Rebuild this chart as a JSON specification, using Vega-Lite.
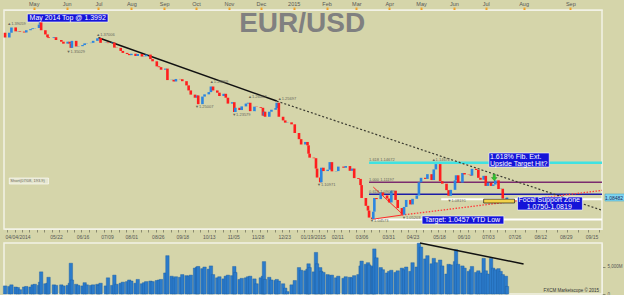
{
  "$schema": "https://vega.github.io/schema/vega-lite/v6.json",
  "background": "#D5D5AA",
  "padding": {"left": 2, "top": 0, "right": 0, "bottom": 0},
  "bounds": "flush",
  "spacing": 14,
  "config": {
    "font": "Liberation Sans",
    "view": {"stroke": "#F2F2E6", "strokeWidth": 1.5},
    "axis": {"grid": false, "labelFont": "Liberation Sans", "labelColor": "#555555", "domainColor": "#F2F2E6", "tickColor": "#8A8A70"},
    "scale": {"continuousPadding": 0}
  },
  "datasets": {
    "candles": [
      {"d":"2014-04-04","o":1.3790,"c":1.3705,"v":1500},
      {"d":"2014-04-08","o":1.3705,"c":1.3790,"v":1400},
      {"d":"2014-04-10","o":1.3790,"c":1.3885,"v":1700},
      {"d":"2014-04-14","o":1.3885,"c":1.3815,"v":1300},
      {"d":"2014-04-16","o":1.3815,"c":1.3820,"v":1200},
      {"d":"2014-04-18","o":1.3820,"c":1.3810,"v":800},
      {"d":"2014-04-22","o":1.3810,"c":1.3795,"v":1300},
      {"d":"2014-04-24","o":1.3795,"c":1.3835,"v":1400},
      {"d":"2014-04-28","o":1.3835,"c":1.3855,"v":1300},
      {"d":"2014-04-30","o":1.3855,"c":1.3870,"v":1700},
      {"d":"2014-05-02","o":1.3870,"c":1.3875,"v":1800},
      {"d":"2014-05-06","o":1.3875,"c":1.3935,"v":1600},
      {"d":"2014-05-07","o":1.3935,"c":1.3985,"v":2200},
      {"d":"2014-05-08","o":1.3985,"c":1.3835,"v":4100},
      {"d":"2014-05-12","o":1.3835,"c":1.3760,"v":1900},
      {"d":"2014-05-14","o":1.3760,"c":1.3710,"v":2000},
      {"d":"2014-05-15","o":1.3710,"c":1.3695,"v":3100},
      {"d":"2014-05-20","o":1.3695,"c":1.3710,"v":1700},
      {"d":"2014-05-22","o":1.3710,"c":1.3660,"v":1600},
      {"d":"2014-05-27","o":1.3660,"c":1.3630,"v":1700},
      {"d":"2014-05-29","o":1.3630,"c":1.3595,"v":1500},
      {"d":"2014-06-02","o":1.3595,"c":1.3630,"v":1600},
      {"d":"2014-06-04","o":1.3630,"c":1.3595,"v":2000},
      {"d":"2014-06-05","o":1.3595,"c":1.3520,"v":5700},
      {"d":"2014-06-06","o":1.3520,"c":1.3645,"v":2600},
      {"d":"2014-06-10","o":1.3645,"c":1.3545,"v":1800},
      {"d":"2014-06-12","o":1.3545,"c":1.3550,"v":1600},
      {"d":"2014-06-16","o":1.3550,"c":1.3570,"v":1500},
      {"d":"2014-06-18","o":1.3570,"c":1.3600,"v":2100},
      {"d":"2014-06-20","o":1.3600,"c":1.3605,"v":1700},
      {"d":"2014-06-24","o":1.3605,"c":1.3610,"v":1600},
      {"d":"2014-06-26","o":1.3610,"c":1.3645,"v":1700},
      {"d":"2014-06-30","o":1.3645,"c":1.3690,"v":1800},
      {"d":"2014-07-01","o":1.3690,"c":1.3695,"v":1600},
      {"d":"2014-07-03","o":1.3695,"c":1.3610,"v":2000},
      {"d":"2014-07-08","o":1.3610,"c":1.3615,"v":1500},
      {"d":"2014-07-10","o":1.3615,"c":1.3605,"v":3000},
      {"d":"2014-07-14","o":1.3605,"c":1.3615,"v":1600},
      {"d":"2014-07-16","o":1.3615,"c":1.3525,"v":3500},
      {"d":"2014-07-18","o":1.3525,"c":1.3520,"v":1800},
      {"d":"2014-07-22","o":1.3520,"c":1.3465,"v":2000},
      {"d":"2014-07-24","o":1.3465,"c":1.3430,"v":2200},
      {"d":"2014-07-28","o":1.3430,"c":1.3410,"v":2300},
      {"d":"2014-07-30","o":1.3410,"c":1.3390,"v":2600},
      {"d":"2014-08-01","o":1.3390,"c":1.3415,"v":2400},
      {"d":"2014-08-05","o":1.3415,"c":1.3375,"v":2000},
      {"d":"2014-08-07","o":1.3375,"c":1.3410,"v":2700},
      {"d":"2014-08-11","o":1.3410,"c":1.3365,"v":1900},
      {"d":"2014-08-13","o":1.3365,"c":1.3370,"v":2100},
      {"d":"2014-08-15","o":1.3370,"c":1.3400,"v":2300},
      {"d":"2014-08-19","o":1.3400,"c":1.3320,"v":2400},
      {"d":"2014-08-21","o":1.3320,"c":1.3280,"v":2300},
      {"d":"2014-08-25","o":1.3280,"c":1.3190,"v":2500},
      {"d":"2014-08-27","o":1.3190,"c":1.3175,"v":2600},
      {"d":"2014-08-29","o":1.3175,"c":1.3130,"v":2700},
      {"d":"2014-09-02","o":1.3130,"c":1.3150,"v":3900},
      {"d":"2014-09-04","o":1.3150,"c":1.2945,"v":7100},
      {"d":"2014-09-08","o":1.2945,"c":1.2950,"v":3300},
      {"d":"2014-09-10","o":1.2950,"c":1.2920,"v":3000},
      {"d":"2014-09-12","o":1.2920,"c":1.2965,"v":3200},
      {"d":"2014-09-16","o":1.2965,"c":1.2960,"v":3100},
      {"d":"2014-09-18","o":1.2960,"c":1.2925,"v":3600},
      {"d":"2014-09-22","o":1.2925,"c":1.2850,"v":3400},
      {"d":"2014-09-24","o":1.2850,"c":1.2760,"v":3300},
      {"d":"2014-09-26","o":1.2760,"c":1.2685,"v":3500},
      {"d":"2014-09-30","o":1.2685,"c":1.2630,"v":4800},
      {"d":"2014-10-02","o":1.2630,"c":1.2670,"v":5000},
      {"d":"2014-10-03","o":1.2670,"c":1.2515,"v":5100},
      {"d":"2014-10-07","o":1.2515,"c":1.2650,"v":4700},
      {"d":"2014-10-09","o":1.2650,"c":1.2690,"v":5000},
      {"d":"2014-10-13","o":1.2690,"c":1.2730,"v":4600},
      {"d":"2014-10-15","o":1.2730,"c":1.2830,"v":5200},
      {"d":"2014-10-17","o":1.2830,"c":1.2760,"v":3600},
      {"d":"2014-10-21","o":1.2760,"c":1.2720,"v":3000},
      {"d":"2014-10-23","o":1.2720,"c":1.2660,"v":3200},
      {"d":"2014-10-27","o":1.2660,"c":1.2700,"v":2800},
      {"d":"2014-10-29","o":1.2700,"c":1.2630,"v":3300},
      {"d":"2014-10-31","o":1.2630,"c":1.2525,"v":3500},
      {"d":"2014-11-04","o":1.2525,"c":1.2550,"v":3400},
      {"d":"2014-11-06","o":1.2550,"c":1.2375,"v":5100},
      {"d":"2014-11-07","o":1.2375,"c":1.2450,"v":4000},
      {"d":"2014-11-11","o":1.2450,"c":1.2410,"v":2700},
      {"d":"2014-11-13","o":1.2410,"c":1.2475,"v":2900},
      {"d":"2014-11-17","o":1.2475,"c":1.2525,"v":3000},
      {"d":"2014-11-19","o":1.2525,"c":1.2540,"v":3200},
      {"d":"2014-11-21","o":1.2540,"c":1.2390,"v":3300},
      {"d":"2014-11-25","o":1.2390,"c":1.2470,"v":2800},
      {"d":"2014-11-27","o":1.2470,"c":1.2465,"v":1900},
      {"d":"2014-12-01","o":1.2465,"c":1.2450,"v":3000},
      {"d":"2014-12-03","o":1.2450,"c":1.2310,"v":3300},
      {"d":"2014-12-04","o":1.2310,"c":1.2380,"v":6000},
      {"d":"2014-12-05","o":1.2380,"c":1.2290,"v":2700},
      {"d":"2014-12-09","o":1.2290,"c":1.2380,"v":3100},
      {"d":"2014-12-11","o":1.2380,"c":1.2415,"v":2600},
      {"d":"2014-12-15","o":1.2415,"c":1.2445,"v":2500},
      {"d":"2014-12-16","o":1.2445,"c":1.2540,"v":2700},
      {"d":"2014-12-18","o":1.2540,"c":1.2290,"v":2400},
      {"d":"2014-12-22","o":1.2290,"c":1.2225,"v":1900},
      {"d":"2014-12-24","o":1.2225,"c":1.2185,"v":1100},
      {"d":"2014-12-26","o":1.2185,"c":1.2190,"v":450},
      {"d":"2014-12-30","o":1.2190,"c":1.2155,"v":1700},
      {"d":"2015-01-02","o":1.2155,"c":1.2000,"v":2500},
      {"d":"2015-01-06","o":1.2000,"c":1.1890,"v":4900},
      {"d":"2015-01-08","o":1.1890,"c":1.1795,"v":4400},
      {"d":"2015-01-12","o":1.1795,"c":1.1840,"v":4300},
      {"d":"2015-01-14","o":1.1840,"c":1.1780,"v":4600},
      {"d":"2015-01-15","o":1.1780,"c":1.1630,"v":5600},
      {"d":"2015-01-16","o":1.1630,"c":1.1560,"v":4900},
      {"d":"2015-01-20","o":1.1560,"c":1.1550,"v":4100},
      {"d":"2015-01-22","o":1.1550,"c":1.1365,"v":7700},
      {"d":"2015-01-23","o":1.1365,"c":1.1205,"v":5600},
      {"d":"2015-01-26","o":1.1205,"c":1.1120,"v":4900},
      {"d":"2015-01-27","o":1.1120,"c":1.1380,"v":4200},
      {"d":"2015-01-29","o":1.1380,"c":1.1320,"v":4000},
      {"d":"2015-02-02","o":1.1320,"c":1.1345,"v":3600},
      {"d":"2015-02-04","o":1.1345,"c":1.1480,"v":3400},
      {"d":"2015-02-06","o":1.1480,"c":1.1315,"v":3500},
      {"d":"2015-02-10","o":1.1315,"c":1.1320,"v":3000},
      {"d":"2015-02-12","o":1.1320,"c":1.1400,"v":3300},
      {"d":"2015-02-17","o":1.1400,"c":1.1380,"v":2900},
      {"d":"2015-02-19","o":1.1380,"c":1.1410,"v":3200},
      {"d":"2015-02-23","o":1.1410,"c":1.1325,"v":3100},
      {"d":"2015-02-25","o":1.1325,"c":1.1365,"v":3000},
      {"d":"2015-02-27","o":1.1365,"c":1.1195,"v":3400},
      {"d":"2015-03-03","o":1.1195,"c":1.1180,"v":3600},
      {"d":"2015-03-05","o":1.1180,"c":1.1070,"v":5200},
      {"d":"2015-03-06","o":1.1070,"c":1.0840,"v":6100},
      {"d":"2015-03-10","o":1.0840,"c":1.0700,"v":5500},
      {"d":"2015-03-12","o":1.0700,"c":1.0615,"v":5800},
      {"d":"2015-03-13","o":1.0615,"c":1.0490,"v":5400},
      {"d":"2015-03-16","o":1.0490,"c":1.0465,"v":5200},
      {"d":"2015-03-17","o":1.0465,"c":1.0595,"v":4900},
      {"d":"2015-03-18","o":1.0595,"c":1.0840,"v":8350},
      {"d":"2015-03-20","o":1.0840,"c":1.0820,"v":6700},
      {"d":"2015-03-24","o":1.0820,"c":1.0940,"v":4900},
      {"d":"2015-03-26","o":1.0940,"c":1.0885,"v":4500},
      {"d":"2015-03-30","o":1.0885,"c":1.0830,"v":3900},
      {"d":"2015-04-01","o":1.0830,"c":1.0760,"v":4200},
      {"d":"2015-04-03","o":1.0760,"c":1.0970,"v":4400},
      {"d":"2015-04-07","o":1.0970,"c":1.0805,"v":4000},
      {"d":"2015-04-09","o":1.0805,"c":1.0660,"v":4300},
      {"d":"2015-04-13","o":1.0660,"c":1.0540,"v":4800},
      {"d":"2015-04-15","o":1.0540,"c":1.0680,"v":4500},
      {"d":"2015-04-17","o":1.0680,"c":1.0805,"v":5000},
      {"d":"2015-04-21","o":1.0805,"c":1.0725,"v":4200},
      {"d":"2015-04-23","o":1.0725,"c":1.0825,"v":5800},
      {"d":"2015-04-27","o":1.0825,"c":1.0885,"v":5000},
      {"d":"2015-04-29","o":1.0885,"c":1.1120,"v":9400},
      {"d":"2015-05-01","o":1.1120,"c":1.1200,"v":8700},
      {"d":"2015-05-05","o":1.1200,"c":1.1180,"v":6500},
      {"d":"2015-05-07","o":1.1180,"c":1.1265,"v":7100},
      {"d":"2015-05-11","o":1.1265,"c":1.1160,"v":5600},
      {"d":"2015-05-13","o":1.1160,"c":1.1350,"v":6600},
      {"d":"2015-05-15","o":1.1350,"c":1.1445,"v":5800},
      {"d":"2015-05-19","o":1.1445,"c":1.1140,"v":6300},
      {"d":"2015-05-21","o":1.1140,"c":1.1095,"v":5200},
      {"d":"2015-05-25","o":1.1095,"c":1.0980,"v":3700},
      {"d":"2015-05-27","o":1.0980,"c":1.0880,"v":5500},
      {"d":"2015-05-29","o":1.0880,"c":1.0985,"v":5400},
      {"d":"2015-06-02","o":1.0985,"c":1.1155,"v":6000},
      {"d":"2015-06-03","o":1.1155,"c":1.1245,"v":8200},
      {"d":"2015-06-05","o":1.1245,"c":1.1115,"v":5500},
      {"d":"2015-06-09","o":1.1115,"c":1.1285,"v":5200},
      {"d":"2015-06-11","o":1.1285,"c":1.1260,"v":4800},
      {"d":"2015-06-15","o":1.1260,"c":1.1255,"v":4200},
      {"d":"2015-06-17","o":1.1255,"c":1.1240,"v":4500},
      {"d":"2015-06-18","o":1.1240,"c":1.1360,"v":5100},
      {"d":"2015-06-22","o":1.1360,"c":1.1340,"v":4000},
      {"d":"2015-06-24","o":1.1340,"c":1.1200,"v":4300},
      {"d":"2015-06-26","o":1.1200,"c":1.1165,"v":3900},
      {"d":"2015-06-29","o":1.1165,"c":1.1235,"v":6600},
      {"d":"2015-07-01","o":1.1235,"c":1.1055,"v":4300},
      {"d":"2015-07-03","o":1.1055,"c":1.1110,"v":3700},
      {"d":"2015-07-06","o":1.1110,"c":1.1055,"v":6600},
      {"d":"2015-07-08","o":1.1055,"c":1.1080,"v":4800},
      {"d":"2015-07-10","o":1.1080,"c":1.1155,"v":4500},
      {"d":"2015-07-13","o":1.1155,"c":1.1000,"v":4700},
      {"d":"2015-07-15","o":1.1000,"c":1.1005,"v":4200},
      {"d":"2015-07-17","o":1.1005,"c":1.0830,"v":3600},
      {"d":"2015-07-20","o":1.0830,"c":1.0820,"v":3300},
      {"d":"2015-07-21","o":1.0820,"c":1.0848,"v":1400}
    ],
    "lines": [
      {"n":"fib1618","d1":"2015-03-13","d2":"2015-09-22","p1":1.14672,"p2":1.14672},
      {"n":"fib1000","d1":"2015-03-13","d2":"2015-09-22","p1":1.11197,"p2":1.11197},
      {"n":"fib0618","d1":"2015-03-13","d2":"2015-09-22","p1":1.09049,"p2":1.09049},
      {"n":"white","d1":"2015-05-20","d2":"2015-09-22","p1":1.0819,"p2":1.0819},
      {"n":"white","d1":"2015-03-16","d2":"2015-09-22","p1":1.0457,"p2":1.0457},
      {"n":"redsolid","d1":"2015-03-16","d2":"2015-04-13","p1":1.0460,"p2":1.0535},
      {"n":"redsolid","d1":"2015-03-17","d2":"2015-04-13","p1":1.1035,"p2":1.0560},
      {"n":"reddot","d1":"2015-04-13","d2":"2015-09-22","p1":1.0535,"p2":1.0975},
      {"n":"blacksolid","d1":"2014-07-01","d2":"2014-12-16","p1":1.3700,"p2":1.2570},
      {"n":"blackdot","d1":"2014-12-16","d2":"2015-09-22","p1":1.2570,"p2":1.0620}
    ],
    "boxes": [
      {"n":"blue","d1":"2014-04-25","d2":"2014-07-10","p1":1.3982,"p2":1.4125},
      {"n":"blue","d1":"2015-07-04","d2":"2015-08-18","p1":1.1393,"p2":1.1643},
      {"n":"blue","d1":"2015-07-28","d2":"2015-09-09","p1":1.0625,"p2":1.0857},
      {"n":"blue","d1":"2015-05-02","d2":"2015-07-18","p1":1.0375,"p2":1.0518},
      {"n":"zone","d1":"2015-06-29","d2":"2015-07-26","p1":1.0750,"p2":1.0819},
      {"n":"short","d1":"2014-04-08","d2":"2014-05-15","p1":1.1089,"p2":1.1196},
      {"n":"last","d1":"2015-09-24","d2":"2015-10-07","p1":1.0786,"p2":1.0911}
    ],
    "notes": [
      {"k":"title","t":"EUR/USD","d":"2015-01-09","p":1.3804},
      {"k":"boxc","t":"May 2014 Top @ 1.3992","d":"2014-06-02","p":1.4054},
      {"k":"boxl","t":"1.618% Fib. Ext.","d":"2015-07-05","p":1.1571},
      {"k":"boxl","t":"Upside Target Hit?","d":"2015-07-05","p":1.1455},
      {"k":"boxc","t":"Focal Support Zone","d":"2015-08-18","p":1.0795},
      {"k":"boxc","t":"1.0750-1.0819","d":"2015-08-18","p":1.0679},
      {"k":"boxc","t":"Target: 1.0457 YTD Low","d":"2015-06-09","p":1.0446},
      {"k":"small","t":"▲1.39059","d":"2014-04-06","p":1.3946},
      {"k":"small","t":"▲1.37006","d":"2014-06-29","p":1.3750},
      {"k":"small","t":"▼1.35029","d":"2014-06-01","p":1.3446},
      {"k":"small","t":"▲1.28869","d":"2014-10-14","p":1.2911},
      {"k":"small","t":"▼1.25007","d":"2014-09-30","p":1.2464},
      {"k":"small","t":"▼1.23579","d":"2014-11-04","p":1.2321},
      {"k":"small","t":"▲1.26007","d":"2014-11-19","p":1.2643},
      {"k":"small","t":"▲1.25697","d":"2014-12-17","p":1.2607},
      {"k":"small","t":"▼1.10971","d":"2015-01-23","p":1.1071},
      {"k":"small","t":"▼1.04573","d":"2015-03-14","p":1.0420},
      {"k":"small","t":"▼1.05203","d":"2015-04-13","p":1.0482},
      {"k":"small","t":"▲1.14672","d":"2015-05-11","p":1.1509},
      {"k":"small","t":"▼1.08191","d":"2015-05-26","p":1.0777},
      {"k":"small","t":"1.618 1.14672","d":"2015-03-13","p":1.1518},
      {"k":"small","t":"1.000 1.11197","d":"2015-03-13","p":1.1155},
      {"k":"small","t":"0.618 1.09049","d":"2015-03-13","p":1.0945},
      {"k":"small","t":"Short(07/08, 193.9)","d":"2014-04-09","p":1.1143},
      {"k":"last","t":"1.08482","d":"2015-09-24","p":1.0848}
    ],
    "arrow": [{"d":"2015-07-09","p":1.1205}],
    "volline": [{"d1":"2015-04-30","d2":"2015-08-01","v1":9444,"v2":5556}],
    "volnote": [{"t":"FXCM Marketscope © 2015","d":"2015-09-20","v":555}]
  },
  "vconcat": [
    {
      "width": 598,
      "height": 219,
      "resolve": {"axis": {"x": "independent"}},
      "layer": [
        {
          "data": {"name": "lines"},
          "transform": [{"filter": "datum.n == 'fib1618'"}],
          "mark": {"type": "rule", "color": "#3FE2E2", "strokeWidth": 2.5},
          "encoding": {
            "x": {"field": "d1", "type": "temporal", "scale": {"type": "utc", "domain": [1396483200000, 1442880000000], "domainRaw": {"expr": "[1396483200000, 1437436800000, 1442880000000]"}, "range": [0, 503, 598], "nice": false},
              "axis": {"orient": "bottom", "labels": false, "title": null, "tickCount": {"interval": "week", "step": 1}, "tickSize": 3, "tickColor": "#8A8A70", "domainColor": "#F2F2E6"}},
            "x2": {"field": "d2"},
            "y": {"field": "p1", "type": "quantitative", "scale": {"domain": [1.0286, 1.4196], "nice": false, "zero": false}, "axis": null},
            "y2": {"field": "p2"}
          }
        },
        {
          "data": {"name": "lines"},
          "transform": [{"filter": "datum.n == 'fib1000'"}],
          "mark": {"type": "rule", "color": "#7B2C6E", "strokeWidth": 1.5},
          "encoding": {
            "x": {"field": "d1", "type": "temporal", "axis": null},
            "x2": {"field": "d2"},
            "y": {"field": "p1", "type": "quantitative", "axis": null},
            "y2": {"field": "p2"}
          }
        },
        {
          "data": {"name": "lines"},
          "transform": [{"filter": "datum.n == 'fib0618'"}],
          "mark": {"type": "rule", "color": "#1C1CA6", "strokeWidth": 1.5},
          "encoding": {
            "x": {"field": "d1", "type": "temporal", "axis": null},
            "x2": {"field": "d2"},
            "y": {"field": "p1", "type": "quantitative", "axis": null},
            "y2": {"field": "p2"}
          }
        },
        {
          "data": {"name": "lines"},
          "transform": [{"filter": "datum.n == 'white'"}],
          "mark": {"type": "rule", "color": "#FFFFFF", "strokeWidth": 2},
          "encoding": {
            "x": {"field": "d1", "type": "temporal", "axis": null},
            "x2": {"field": "d2"},
            "y": {"field": "p1", "type": "quantitative", "axis": null},
            "y2": {"field": "p2"}
          }
        },
        {
          "data": {"name": "lines"},
          "transform": [{"filter": "datum.n == 'redsolid'"}],
          "mark": {"type": "rule", "color": "#FF2A2A", "strokeWidth": 1},
          "encoding": {
            "x": {"field": "d1", "type": "temporal", "axis": null},
            "x2": {"field": "d2"},
            "y": {"field": "p1", "type": "quantitative", "axis": null},
            "y2": {"field": "p2"}
          }
        },
        {
          "data": {"name": "lines"},
          "transform": [{"filter": "datum.n == 'reddot'"}],
          "mark": {"type": "rule", "color": "#FF3B3B", "strokeWidth": 1.3, "strokeDash": [1.5, 1.5]},
          "encoding": {
            "x": {"field": "d1", "type": "temporal", "axis": null},
            "x2": {"field": "d2"},
            "y": {"field": "p1", "type": "quantitative", "axis": null},
            "y2": {"field": "p2"}
          }
        },
        {
          "data": {"name": "lines"},
          "transform": [{"filter": "datum.n == 'blacksolid'"}],
          "mark": {"type": "rule", "color": "#111111", "strokeWidth": 1.5},
          "encoding": {
            "x": {"field": "d1", "type": "temporal", "axis": null},
            "x2": {"field": "d2"},
            "y": {"field": "p1", "type": "quantitative", "axis": null},
            "y2": {"field": "p2"}
          }
        },
        {
          "data": {"name": "lines"},
          "transform": [{"filter": "datum.n == 'blackdot'"}],
          "mark": {"type": "rule", "color": "#3A3A30", "strokeWidth": 1.2, "strokeDash": [2, 2]},
          "encoding": {
            "x": {"field": "d1", "type": "temporal", "axis": null},
            "x2": {"field": "d2"},
            "y": {"field": "p1", "type": "quantitative", "axis": null},
            "y2": {"field": "p2"}
          }
        },
        {
          "data": {"name": "candles"},
          "mark": {"type": "bar"},
          "encoding": {
            "x": {"field": "d", "type": "temporal",
              "axis": {"orient": "top", "title": null, "labelOverlap": false, "tickCount": 60,
                "values": [1398902400000, 1401580800000, 1404172800000, 1406851200000, 1409529600000, 1412121600000, 1414800000000, 1417392000000, 1420070400000, 1422748800000, 1425168000000, 1427846400000, 1430438400000, 1433116800000, 1435708800000, 1438387200000, 1441065600000],
                "labelExpr": "utcFormat(datum.value, '%m') == '01' ? utcFormat(datum.value, '%Y') : utcFormat(datum.value, '%b')",
                "labelFontSize": 5.5, "labelPadding": 1, "tickSize": 3, "tickWidth": 2, "tickColor": "#F0A028", "domainColor": "#F2F2E6"}},
            "y": {"field": "o", "type": "quantitative",
              "axis": {"orient": "right", "title": null, "values": [1.05, 1.1, 1.15, 1.2, 1.25, 1.3, 1.35, 1.4], "format": ".4f", "labelFontSize": 5.5, "tickSize": 3, "labelPadding": 2, "domainColor": "#F2F2E6"}},
            "y2": {"field": "c"},
            "color": {"condition": {"test": "datum.c < datum.o", "value": "#FF1E1E"}, "value": "#2C86E0"},
            "size": {"value": 2.6}
          }
        },
        {
          "data": {"name": "boxes"},
          "mark": {"type": "rect", "strokeWidth": 0.6},
          "encoding": {
            "x": {"field": "d1", "type": "temporal", "axis": null},
            "x2": {"field": "d2"},
            "y": {"field": "p1", "type": "quantitative", "axis": null},
            "y2": {"field": "p2"},
            "fill": {"field": "n", "type": "nominal", "legend": null, "scale": {"domain": ["blue", "zone", "short", "last"], "range": ["#1414D8", "#F2D24A", "#E6E6CF", "#7FD6F0"]}},
            "stroke": {"field": "n", "type": "nominal", "legend": null, "scale": {"domain": ["blue", "zone", "short", "last"], "range": ["#FFFFFF", "#000000", "#FFFFFF", "#4AA6C8"]}}
          }
        },
        {
          "data": {"name": "arrow"},
          "mark": {"type": "point", "shape": "M-0.35,-1L0.35,-1L0.35,0L0.9,0L0,1L-0.9,0L-0.35,0Z", "filled": true, "color": "#2EC62E", "stroke": "#1D7A1D", "strokeWidth": 0.4, "opacity": 1},
          "encoding": {
            "x": {"field": "d", "type": "temporal", "axis": null},
            "y": {"field": "p", "type": "quantitative", "axis": null},
            "size": {"value": 40}
          }
        },
        {
          "data": {"name": "notes"},
          "transform": [{"filter": "datum.k == 'title'"}],
          "mark": {"type": "text", "font": "Liberation Sans", "fontSize": 28, "fontWeight": "bold", "color": "#808080", "align": "center", "baseline": "alphabetic"},
          "encoding": {
            "x": {"field": "d", "type": "temporal", "axis": null},
            "y": {"field": "p", "type": "quantitative", "axis": null},
            "text": {"field": "t"}
          }
        },
        {
          "data": {"name": "notes"},
          "transform": [{"filter": "datum.k == 'boxc'"}],
          "mark": {"type": "text", "font": "Liberation Sans", "fontSize": 7, "color": "#FFFFFF", "align": "center", "baseline": "middle"},
          "encoding": {
            "x": {"field": "d", "type": "temporal", "axis": null},
            "y": {"field": "p", "type": "quantitative", "axis": null},
            "text": {"field": "t"}
          }
        },
        {
          "data": {"name": "notes"},
          "transform": [{"filter": "datum.k == 'boxl'"}],
          "mark": {"type": "text", "font": "Liberation Sans", "fontSize": 7, "color": "#FFFFFF", "align": "left", "baseline": "middle"},
          "encoding": {
            "x": {"field": "d", "type": "temporal", "axis": null},
            "y": {"field": "p", "type": "quantitative", "axis": null},
            "text": {"field": "t"}
          }
        },
        {
          "data": {"name": "notes"},
          "transform": [{"filter": "datum.k == 'small'"}],
          "mark": {"type": "text", "font": "Liberation Sans", "fontSize": 4, "color": "#66665A", "align": "left", "baseline": "middle"},
          "encoding": {
            "x": {"field": "d", "type": "temporal", "axis": null},
            "y": {"field": "p", "type": "quantitative", "axis": null},
            "text": {"field": "t"}
          }
        },
        {
          "data": {"name": "notes"},
          "transform": [{"filter": "datum.k == 'last'"}],
          "mark": {"type": "text", "font": "Liberation Sans", "fontSize": 5, "color": "#1A2A60", "align": "left", "baseline": "middle"},
          "encoding": {
            "x": {"field": "d", "type": "temporal", "axis": null},
            "y": {"field": "p", "type": "quantitative", "axis": null},
            "text": {"field": "t"}
          }
        }
      ]
    },
    {
      "width": 598,
      "height": 51,
      "layer": [
        {
          "data": {"name": "candles"},
          "mark": {"type": "bar", "color": "#2B7BCB", "stroke": "#1C5A9C", "strokeWidth": 0.4},
          "encoding": {
            "x": {"field": "d", "type": "temporal",
              "scale": {"type": "utc", "domain": [1396483200000, 1442880000000], "domainRaw": {"expr": "[1396483200000, 1437436800000, 1442880000000]"}, "range": [0, 503, 598], "nice": false},
              "axis": {"orient": "top", "title": null, "ticks": false, "domain": false, "labelFontSize": 5, "labelPadding": 4, "labelOverlap": false, "tickCount": 60,
                "values": [1396569600000, 1400716800000, 1402876800000, 1404864000000, 1406851200000, 1409011200000, 1410998400000, 1413158400000, 1415145600000, 1417132800000, 1419292800000, 1421625600000, 1423612800000, 1425600000000, 1427760000000, 1429747200000, 1431907200000, 1433894400000, 1435881600000, 1437868800000, 1439337600000, 1440806400000, 1442275200000],
                "labelExpr": "(utcFormat(datum.value, '%Y-%m-%d') == '2014-04-04' || utcFormat(datum.value, '%Y-%m-%d') == '2015-01-19') ? utcFormat(datum.value, '%m/%d/%Y') : utcFormat(datum.value, '%m/%d')",
                "labelAlign": {"condition": {"test": "utcFormat(datum.value, '%Y-%m-%d') == '2014-04-04'", "value": "left"}, "value": "center"}}},
            "y": {"field": "v", "type": "quantitative", "scale": {"domain": [0, 9444], "nice": false},
              "axis": {"orient": "right", "title": null, "values": [0, 5000], "labelExpr": "datum.value == 5000 ? '5,000M' : '0'", "labelFontSize": 4.5, "tickSize": 3, "labelPadding": 2, "domainColor": "#F2F2E6"}},
            "size": {"value": 3.4}
          }
        },
        {
          "data": {"name": "volline"},
          "mark": {"type": "rule", "color": "#111111", "strokeWidth": 1.5},
          "encoding": {
            "x": {"field": "d1", "type": "temporal"},
            "x2": {"field": "d2"},
            "y": {"field": "v1", "type": "quantitative"},
            "y2": {"field": "v2"}
          }
        },
        {
          "data": {"name": "volnote"},
          "mark": {"type": "text", "font": "Liberation Sans", "fontSize": 4.5, "color": "#333333", "align": "right", "baseline": "middle"},
          "encoding": {
            "x": {"field": "d", "type": "temporal"},
            "y": {"field": "v", "type": "quantitative"},
            "text": {"field": "t"}
          }
        }
      ]
    }
  ]
}
